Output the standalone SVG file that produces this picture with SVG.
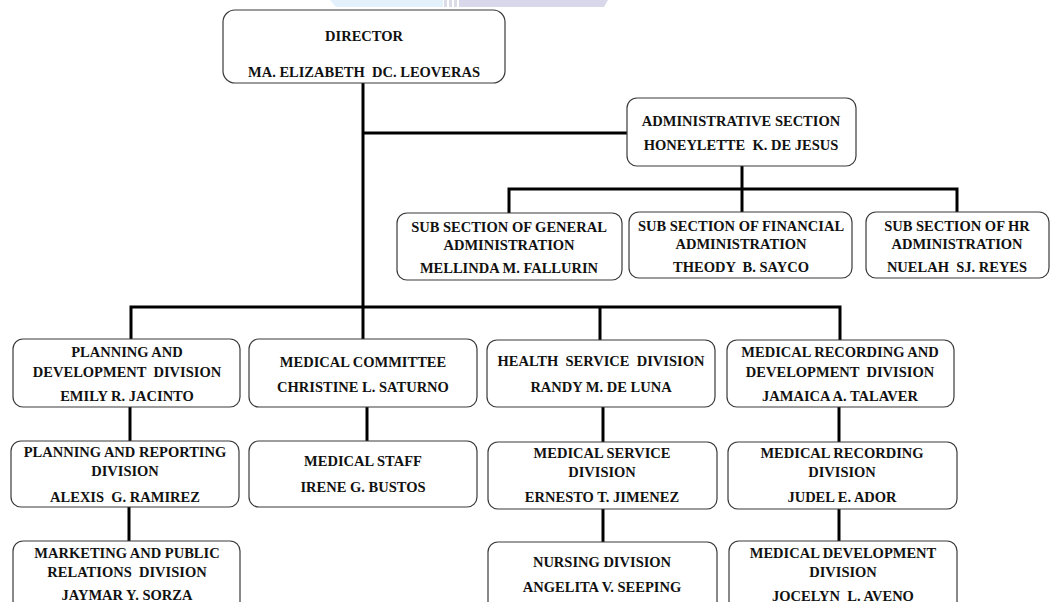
<svg xmlns="http://www.w3.org/2000/svg" width="1055" height="602" viewBox="0 0 1055 602">
<style>
.box{fill:#fff;stroke:#3a3a3a;stroke-width:1.2}
.t{font-family:"Liberation Serif","Times New Roman",serif;font-weight:bold;font-size:14.5px;fill:#111;text-anchor:middle;white-space:pre}
.c{stroke:#000;stroke-width:3;fill:none}
</style>
<rect width="1055" height="602" fill="#fff"/>
<g id="watermark">
<polygon points="330,0 443,0 443,7 336,7" fill="#e2f1fb"/>
<rect x="444" y="0" width="3" height="7" fill="#dcdce8"/>
<rect x="449" y="0" width="3" height="7" fill="#dcdce8"/>
<rect x="454" y="0" width="3" height="7" fill="#dcdce8"/>
<polygon points="459,0 608,0 604,7 459,7" fill="#d9d8ea"/>
</g>
<g id="connectors">
<path class="c" d="M363,83 V307"/>
<path class="c" d="M363,133 H627"/>
<path class="c" d="M742,166 V189"/>
<path class="c" d="M509,213 V189 H957 V212"/>
<path class="c" d="M742,189 V213"/>
<path class="c" d="M131,339 V307 H840 V340"/>
<path class="c" d="M600,307 V340"/>
<path class="c" d="M363,307 V339"/>
<path class="c" d="M130,407 V441"/>
<path class="c" d="M367,407 V441"/>
<path class="c" d="M603,407 V442"/>
<path class="c" d="M839,407 V442"/>
<path class="c" d="M129,507 V541"/>
<path class="c" d="M603,509 V542"/>
<path class="c" d="M839,509 V541"/>
</g>
<g id="director">
<rect class="box" x="223" y="10" width="282" height="73" rx="12"/>
<text class="t" x="364" y="41">DIRECTOR</text>
<text class="t" x="364" y="77">MA. ELIZABETH  DC. LEOVERAS</text>
</g>
<g id="admin">
<rect class="box" x="627" y="98" width="229" height="68" rx="10"/>
<text class="t" x="741" y="126">ADMINISTRATIVE SECTION</text>
<text class="t" x="741" y="150">HONEYLETTE  K. DE JESUS</text>
</g>
<g id="sub-general">
<rect class="box" x="397" y="213" width="225" height="67" rx="10"/>
<text class="t" x="509" y="232">SUB SECTION OF GENERAL</text>
<text class="t" x="509" y="250">ADMINISTRATION</text>
<text class="t" x="509" y="273">MELLINDA M. FALLURIN</text>
</g>
<g id="sub-financial">
<rect class="box" x="629" y="212" width="223" height="66" rx="10"/>
<text class="t" x="741" y="231">SUB SECTION OF FINANCIAL</text>
<text class="t" x="741" y="249">ADMINISTRATION</text>
<text class="t" x="741" y="272">THEODY  B. SAYCO</text>
</g>
<g id="sub-hr">
<rect class="box" x="866" y="212" width="183" height="66" rx="10"/>
<text class="t" x="957" y="231">SUB SECTION OF HR</text>
<text class="t" x="957" y="249">ADMINISTRATION</text>
<text class="t" x="957" y="272">NUELAH  SJ. REYES</text>
</g>
<g id="planning-dev">
<rect class="box" x="13" y="339" width="227" height="68" rx="10"/>
<text class="t" x="127" y="357">PLANNING AND</text>
<text class="t" x="127" y="377">DEVELOPMENT  DIVISION</text>
<text class="t" x="127" y="401">EMILY R. JACINTO</text>
</g>
<g id="med-committee">
<rect class="box" x="249" y="339" width="228" height="68" rx="10"/>
<text class="t" x="363" y="367">MEDICAL COMMITTEE</text>
<text class="t" x="363" y="392">CHRISTINE L. SATURNO</text>
</g>
<g id="health-service">
<rect class="box" x="487" y="340" width="228" height="67" rx="10"/>
<text class="t" x="601" y="366">HEALTH  SERVICE  DIVISION</text>
<text class="t" x="601" y="392">RANDY M. DE LUNA</text>
</g>
<g id="med-rec-dev">
<rect class="box" x="727" y="340" width="227" height="67" rx="10"/>
<text class="t" x="840" y="357">MEDICAL RECORDING AND</text>
<text class="t" x="840" y="377">DEVELOPMENT  DIVISION</text>
<text class="t" x="840" y="401">JAMAICA A. TALAVER</text>
</g>
<g id="planning-reporting">
<rect class="box" x="11" y="441" width="228" height="66" rx="10"/>
<text class="t" x="125" y="457">PLANNING AND REPORTING</text>
<text class="t" x="125" y="476">DIVISION</text>
<text class="t" x="125" y="502">ALEXIS  G. RAMIREZ</text>
</g>
<g id="med-staff">
<rect class="box" x="249" y="441" width="228" height="66" rx="10"/>
<text class="t" x="363" y="466">MEDICAL STAFF</text>
<text class="t" x="363" y="492">IRENE G. BUSTOS</text>
</g>
<g id="med-service">
<rect class="box" x="488" y="442" width="229" height="67" rx="10"/>
<text class="t" x="602" y="458">MEDICAL SERVICE</text>
<text class="t" x="602" y="477">DIVISION</text>
<text class="t" x="602" y="502">ERNESTO T. JIMENEZ</text>
</g>
<g id="med-recording">
<rect class="box" x="728" y="442" width="229" height="67" rx="10"/>
<text class="t" x="842" y="458">MEDICAL RECORDING</text>
<text class="t" x="842" y="477">DIVISION</text>
<text class="t" x="842" y="502">JUDEL E. ADOR</text>
</g>
<g id="marketing">
<rect class="box" x="13" y="541" width="227" height="80" rx="10"/>
<text class="t" x="127" y="558">MARKETING AND PUBLIC</text>
<text class="t" x="127" y="577">RELATIONS  DIVISION</text>
<text class="t" x="127" y="600">JAYMAR Y. SORZA</text>
</g>
<g id="nursing">
<rect class="box" x="488" y="542" width="229" height="80" rx="10"/>
<text class="t" x="602" y="567">NURSING DIVISION</text>
<text class="t" x="602" y="592">ANGELITA V. SEEPING</text>
</g>
<g id="med-development">
<rect class="box" x="729" y="541" width="228" height="80" rx="10"/>
<text class="t" x="843" y="558">MEDICAL DEVELOPMENT</text>
<text class="t" x="843" y="577">DIVISION</text>
<text class="t" x="843" y="601">JOCELYN  L. AVENO</text>
</g>
</svg>
